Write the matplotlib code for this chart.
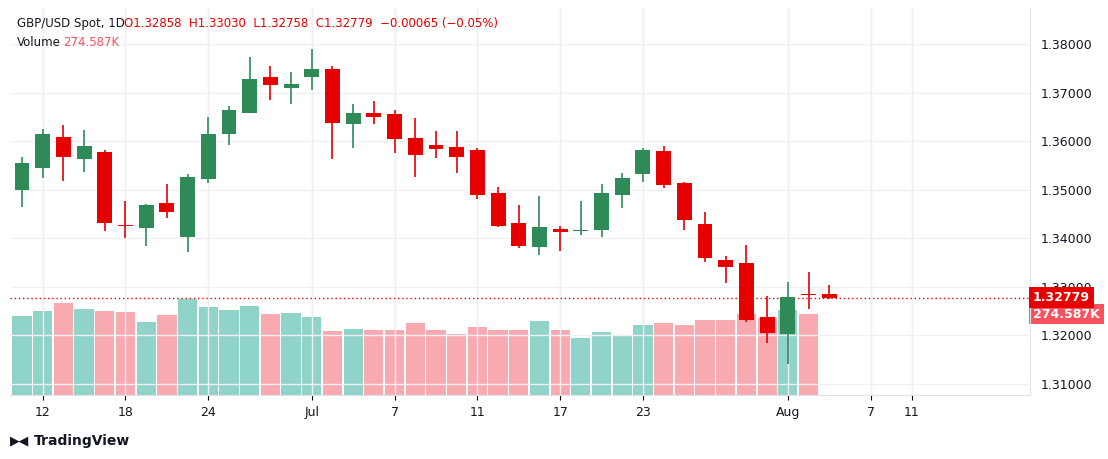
import matplotlib
matplotlib.use("Agg")
import matplotlib.pyplot as plt
from matplotlib.patches import Rectangle

dates = ["Jun 11","Jun 12","Jun 13","Jun 16","Jun 17","Jun 18","Jun 19","Jun 20","Jun 23","Jun 24",
         "Jun 25","Jun 26","Jun 27","Jun 30","Jul 1","Jul 2","Jul 3","Jul 4","Jul 7","Jul 8",
         "Jul 9","Jul 10","Jul 11","Jul 14","Jul 15","Jul 16","Jul 17","Jul 18","Jul 21","Jul 22",
         "Jul 23","Jul 24","Jul 25","Jul 28","Jul 29","Jul 30","Jul 31","Aug 1","Aug 4","Aug 5"]
opens = [1.34994,1.35453,1.36085,1.35638,1.35776,1.34273,1.34218,1.34726,1.34032,1.35227,
         1.36153,1.36585,1.37320,1.37100,1.37327,1.37485,1.36359,1.36579,1.36559,1.36065,
         1.35920,1.35879,1.35817,1.34932,1.34314,1.33826,1.34191,1.34150,1.34176,1.34897,
         1.35330,1.35797,1.35138,1.34294,1.33553,1.33491,1.32379,1.32035,1.32852,1.32858]
highs = [1.35673,1.36250,1.36332,1.36229,1.35817,1.34767,1.34706,1.35117,1.35323,1.36497,
         1.36723,1.37732,1.37547,1.37423,1.37897,1.37547,1.36765,1.36826,1.36641,1.36476,
         1.36209,1.36209,1.35859,1.35056,1.34685,1.34870,1.34253,1.34767,1.35117,1.35344,
         1.35859,1.35900,1.35150,1.34541,1.33635,1.33861,1.32811,1.33100,1.33305,1.33030]
lows = [1.34650,1.35247,1.35185,1.35371,1.34156,1.34012,1.33847,1.34423,1.33723,1.35144,
        1.35927,1.36570,1.36853,1.36771,1.37053,1.35638,1.35865,1.36359,1.35762,1.35268,
        1.35659,1.35350,1.34815,1.34240,1.33806,1.33662,1.33744,1.34073,1.34032,1.34629,
        1.35165,1.35041,1.34176,1.33518,1.33085,1.32282,1.31850,1.31417,1.32550,1.32758]
closes = [1.35544,1.36147,1.35680,1.35900,1.34320,1.34253,1.34685,1.34547,1.35262,1.36147,
          1.36641,1.37279,1.37162,1.37176,1.37485,1.36380,1.36579,1.36503,1.36050,1.35721,
          1.35844,1.35680,1.34897,1.34259,1.33847,1.34232,1.34135,1.34170,1.34932,1.35241,
          1.35817,1.35103,1.34382,1.33600,1.33415,1.32323,1.32056,1.32791,1.32832,1.32779]
volumes_k = [268,285,312,292,285,281,247,271,325,298,288,302,275,278,264,217,224,220,220,244,
             220,207,230,220,220,251,220,193,214,200,237,244,237,254,254,275,261,288,274.587,None]
tick_pos = [1, 5, 9, 14, 18, 22, 26, 30, 37, 41, 43]
tick_labels = ["12","18","24","Jul","7","11","17","23","Aug","7","11"]
price_ticks = [1.31, 1.32, 1.33, 1.34, 1.35, 1.36, 1.37, 1.38]

UP, DN = "#2e8b57", "#e60000"
VUP, VDN = "#8fd3c9", "#f9a9b0"
W, H = 1108, 459
fig = plt.figure(figsize=(W/100, H/100), dpi=100)
L, R, T, B = 10, 1030, 8, 395
rect = [L/W, 1-B/H, (R-L)/W, (B-T)/H]
axv = fig.add_axes(rect)
ax = fig.add_axes(rect, sharex=axv)
ax.patch.set_alpha(0)

n = len(dates)
for i in range(n):
    v = volumes_k[i]
    if v is None:
        continue
    axv.bar(i, v, width=0.93, color=VUP if closes[i] >= opens[i] else VDN, linewidth=0)
axv.set_ylim(0, 1312)
axv.set_yticks([])

bw = 0.72
for i in range(n):
    o, h, l, c = opens[i], highs[i], lows[i], closes[i]
    col = UP if c >= o else DN
    ax.vlines(i, l, h, color=col, linewidth=1.2, zorder=3)
    lo, hi = min(o, c), max(o, c)
    ax.add_patch(Rectangle((i-bw/2, lo), bw, max(hi-lo, 0.00012), color=col, zorder=4, linewidth=0))

ax.set_xlim(-0.58, 48.7)
ax.set_ylim(1.30773, 1.38741)
ax.set_yticks(price_ticks)
ax.set_xticks(tick_pos)
ax.set_xticklabels(tick_labels)
ax.yaxis.tick_right()
ax.set_yticklabels([f"{p:.5f}" for p in price_ticks])
ax.tick_params(axis="both", length=0, labelsize=9, colors="#131722")
ax.tick_params(axis="y", pad=8)
ax.tick_params(axis="x", pad=8)
ax.grid(True, color="#f0f0f3", linewidth=1)
axv.grid(True, axis="x", color="#f0f0f3", linewidth=1)
axv.set_axisbelow(True)
for a in (ax, axv):
    for s in a.spines.values():
        s.set_visible(False)
ax.spines["right"].set_visible(True)
ax.spines["right"].set_color("#e0e3eb")
ax.spines["bottom"].set_visible(True)
ax.spines["bottom"].set_color("#e0e3eb")
plt.setp(axv.get_xticklabels(), visible=False)

last = closes[-1]
ax.axhline(last, color=DN, linestyle=(0, (1, 2)), linewidth=1, zorder=2)
ax.text(1.003, last, f"{last:.5f}", transform=ax.get_yaxis_transform(), va="center", ha="left",
        fontsize=9, color="white", fontweight="bold",
        bbox=dict(boxstyle="square,pad=0.3", fc=DN, ec="none"))
axv.text(1.003, volumes_k[-2], f"{volumes_k[-2]:.3f}K", transform=axv.get_yaxis_transform(),
         va="center", ha="left", fontsize=9, color="white", fontweight="bold",
         bbox=dict(boxstyle="square,pad=0.3", fc="#f7525f", ec="none"))

def ft(x, y, s, c="#131722", size=8.5, **kw):
    fig.text(x/W, 1-y/H, s, color=c, fontsize=size, va="center", ha="left", **kw)
ft(17, 24, "GBP/USD Spot, 1D")
ft(124, 24, f"O{opens[-1]:.5f}  H{highs[-1]:.5f}  L{lows[-1]:.5f}  C{closes[-1]:.5f}  −0.00065 (−0.05%)", DN)
ft(17, 42, "Volume")
ft(63, 42, f"{volumes_k[-2]:.3f}K", "#f7525f")
ft(10, 441, "▶◀", size=9, fontweight="bold")
ft(34, 441, "TradingView", size=10, fontweight="bold")

fig.savefig("out.png", dpi=100, facecolor="white")
